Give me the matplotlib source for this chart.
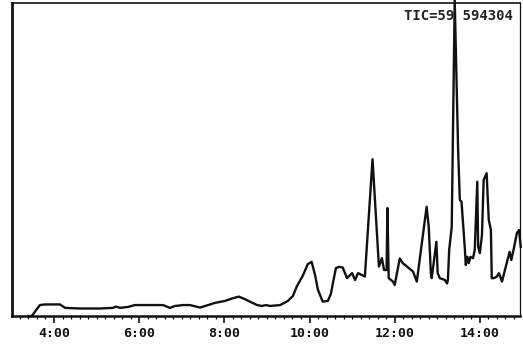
import matplotlib
matplotlib.use("Agg")
import matplotlib.pyplot as plt
from matplotlib.ticker import MultipleLocator, FuncFormatter

# retention time (min) and relative intensity (% of full scale)
times = [3.40, 3.48, 3.58, 3.67, 3.79, 4.14, 4.26, 4.61, 5.08, 5.38, 5.46, 5.55, 5.74,
         5.90, 6.25, 6.56, 6.72, 6.84, 7.03, 7.19, 7.43, 7.62, 7.78, 8.01, 8.18, 8.34,
         8.48, 8.60, 8.77, 8.88, 8.98, 9.07, 9.31, 9.49, 9.61, 9.70, 9.85, 9.96, 10.05,
         10.13, 10.20, 10.31, 10.43, 10.50, 10.55, 10.62, 10.69, 10.78, 10.88, 11.00,
         11.07, 11.14, 11.23, 11.30, 11.48, 11.63, 11.70, 11.75, 11.81, 11.83, 11.86,
         11.96, 12.00, 12.12, 12.19, 12.29, 12.43, 12.52, 12.75, 12.80, 12.85, 12.87,
         12.98, 13.01, 13.06, 13.18, 13.23, 13.25, 13.28, 13.34, 13.41, 13.49, 13.53,
         13.57, 13.65, 13.67, 13.71, 13.74, 13.78, 13.84, 13.88, 13.94, 13.96, 14.00,
         14.05, 14.09, 14.16, 14.18, 14.21, 14.26, 14.28, 14.33, 14.40, 14.45, 14.52,
         14.59, 14.63, 14.70, 14.74, 14.80, 14.87, 14.92, 14.96]
intensity = [0.0, 0.0, 1.9, 3.5, 3.7, 3.7, 2.6, 2.4, 2.4, 2.6, 3.0, 2.6, 2.9,
             3.5, 3.5, 3.5, 2.6, 3.2, 3.5, 3.5, 2.7, 3.5, 4.2, 4.8, 5.6, 6.2,
             5.4, 4.6, 3.5, 3.2, 3.5, 3.2, 3.5, 4.8, 6.4, 9.4, 13.1, 16.6, 17.3,
             13.1, 8.3, 4.6, 4.8, 7.0, 10.5, 15.3, 15.7, 15.5, 12.1, 13.7,
             11.5, 13.7, 13.1, 12.6, 50.1, 15.8, 18.5, 14.7, 14.7, 34.5, 12.1,
             11.0, 9.9, 18.4, 16.9, 15.8, 14.2, 11.0, 34.9, 28.5, 13.7, 12.1,
             23.7, 13.7, 12.1, 11.5, 10.4, 11.5, 21.1, 28.5, 101.0, 53.0, 37.1,
             36.5, 21.1, 16.3, 18.9, 16.9, 18.9, 18.5, 21.1, 42.9, 22.1, 20.1,
             25.9, 43.5, 45.6, 39.3, 30.7, 27.5, 12.1, 12.1, 12.6, 13.7, 11.0,
             14.7, 16.9, 20.5, 17.9, 21.7, 26.5, 27.5, 22.1]

tic_label = "TIC=59 594304"

fig = plt.figure(figsize=(5.23, 3.47), dpi=100)
ax = fig.add_axes([0.023, 0.0893, 0.971, 0.902])

ax.plot(times, intensity, color="#111111", lw=1.7, clip_on=False, zorder=3)

ax.set_xlim(3.014, 14.94)
ax.set_ylim(0, 100)

def fmt(v, pos):
    return "%d:00" % round(v)

ax.xaxis.set_major_locator(MultipleLocator(2))
ax.xaxis.set_minor_locator(MultipleLocator(0.2))
ax.xaxis.set_major_formatter(FuncFormatter(fmt))
ax.tick_params(axis="x", which="major", direction="out", length=5, width=1.2,
               pad=3, labelsize=9.5, colors="#111111")
ax.tick_params(axis="x", which="minor", direction="out", length=2.5, width=0.9,
               colors="#111111")
for lab in ax.get_xticklabels():
    lab.set_family("DejaVu Sans Mono")
    lab.set_fontweight("bold")
ax.set_yticks([])

for side, w in [("left", 2.0), ("bottom", 1.8), ("top", 1.2), ("right", 0.9)]:
    ax.spines[side].set_linewidth(w)
    ax.spines[side].set_color("#111111")

ax.text(0.986, 0.958, tic_label, transform=ax.transAxes, ha="right", va="center",
        family="DejaVu Sans Mono", fontweight="bold", fontsize=10, color="#222222",
        zorder=2)

fig.savefig("out.png", dpi=100)
